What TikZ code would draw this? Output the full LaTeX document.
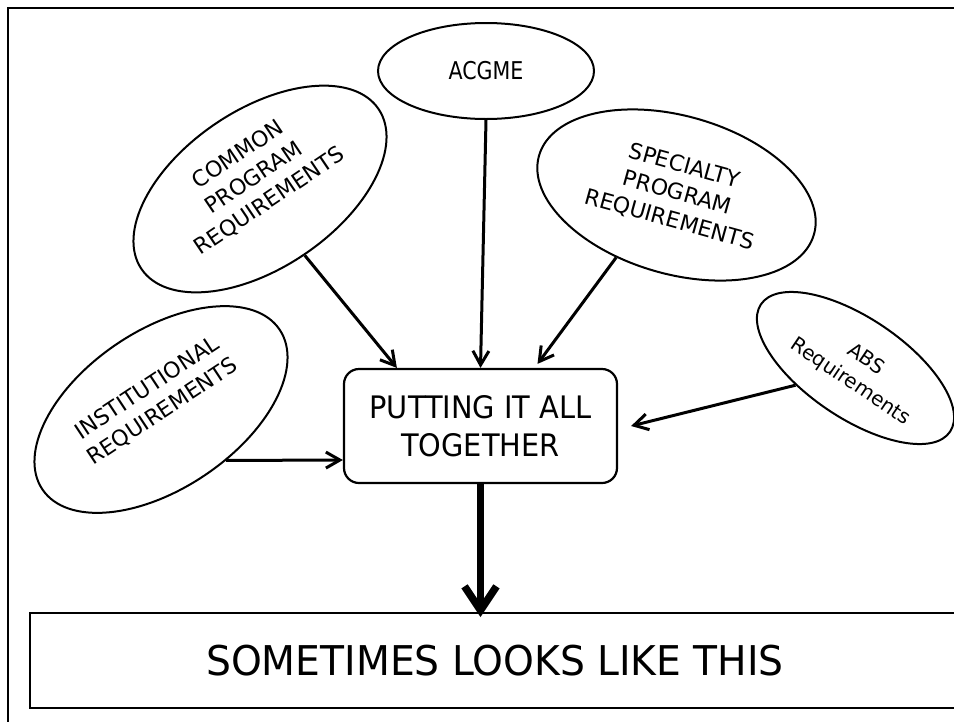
\documentclass[tikz,border=0pt]{standalone}
\usepackage{graphicx}
\usepackage{fontspec}
\setmainfont{DejaVu Sans}
\usetikzlibrary{shapes.geometric,arrows.meta,calc}
\begin{document}
\begin{tikzpicture}[x=1pt,y=-1pt,
  ell/.style={draw, ellipse, line width=2pt, inner sep=0pt},
  bigell/.style={ell, minimum width=286pt, minimum height=158pt},
  lbl/.style={font=\fontsize{22}{28}\selectfont, align=center, inner sep=0pt},
  arr/.style={line width=3pt, -{Straight Barb[length=14pt,width=16pt]}},
  bigarr/.style={line width=7.5pt, -{Straight Barb[length=24pt,width=32pt]}},
]
\useasboundingbox (0,0) rectangle (954,721);
\clip (0,0) rectangle (954,721);
\draw[line width=2.7pt] (8,8) rectangle (970,740);

\node[ell, minimum width=216pt, minimum height=96pt, font=\fontsize{24.5}{28}\selectfont] (acgme) at (486,71) {\scalebox{0.84}[1]{ACGME}};

\node[bigell, rotate=34] (common) at (260,189) {};
\node[lbl, rotate=34] (commont) at (254,178) {COMMON\\PROGRAM\\REQUIREMENTS};

\node[bigell, rotate=-16] (spec) at (676.5,195) {};
\node[lbl, rotate=-15.5] (spect) at (677,193) {SPECIALTY\\PROGRAM\\REQUIREMENTS};

\node[ell, minimum width=228pt, minimum height=100pt, rotate=-34] (abs) at (855.5,368) {};
\node[lbl, font=\fontsize{20}{27}\selectfont, rotate=-34] (abst) at (858,371) {ABS\\Requirements};

\node[bigell, rotate=34] (inst) at (161,409.5) {};
\node[lbl, rotate=33.5] (instt) at (155,400) {INSTITUTIONAL\\REQUIREMENTS};

\node[draw, line width=2.2pt, rounded corners=15pt, minimum width=273pt, minimum height=114pt, inner sep=0pt, align=center, font=\fontsize{31}{38}\selectfont] (box) at (480.5,426) {\scalebox{0.93}[1]{PUTTING IT ALL}\\\scalebox{0.93}[1]{TOGETHER}};

\node[draw, line width=1.8pt, minimum width=930pt, minimum height=95pt, inner sep=0pt, font=\fontsize{41}{48}\selectfont] (bottom) at (495,660.5) {\scalebox{0.957}[1]{SOMETIMES LOOKS LIKE THIS}};

\draw[arr] (common.south) -- ([xshift=54pt]box.north west);
\draw[arr] (acgme.south) -- (box.north);
\draw[arr] (spec.242) -- ([xshift=57pt,yshift=4pt]box.north);
\draw[arr] (abs.230) -- ([xshift=13pt]box.east);
\draw[arr] (inst.288) -- ([yshift=-34pt]box.west);
\coordinate (tipend) at ($(box.south |- bottom.north)+(0,5)$);
\draw[bigarr] (box.south) -- (tipend);
\end{tikzpicture}
\end{document}
